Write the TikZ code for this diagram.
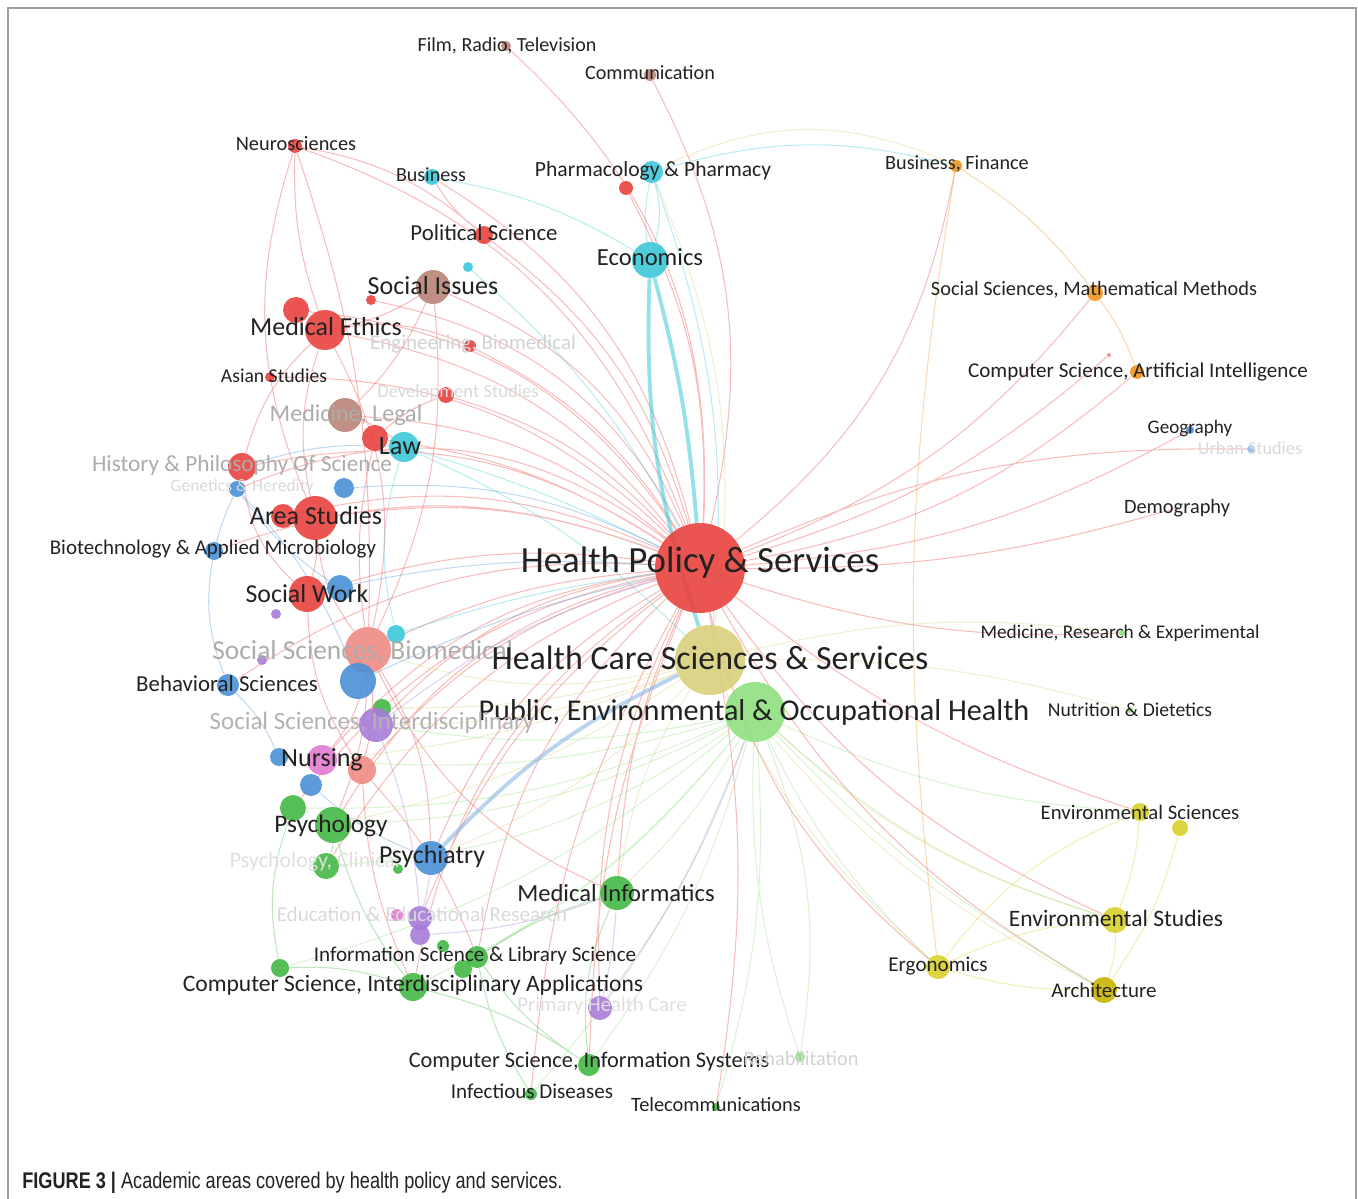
\documentclass[tikz,border=0pt]{standalone}
\usepackage{fontspec}
\setmainfont{Carlito}
\newfontfamily\capfont[FakeStretch=0.8]{Liberation Sans}
\usetikzlibrary{backgrounds}

\definecolor{hred}{HTML}{E8423F}
\definecolor{hcyan}{HTML}{3CC8D8}
\definecolor{hbrown}{HTML}{B88476}
\definecolor{hblue}{HTML}{4A90D6}
\definecolor{hpink}{HTML}{F08A85}
\definecolor{hpurple}{HTML}{A77BD8}
\definecolor{hmagenta}{HTML}{E27BD0}
\definecolor{hgreen}{HTML}{45B845}
\definecolor{hlgreen}{HTML}{8FE07F}
\definecolor{hkhaki}{HTML}{D8D07C}
\definecolor{hyellow}{HTML}{D8D02A}
\definecolor{horange}{HTML}{F0951E}
\definecolor{hdyellow}{HTML}{C8B400}
\definecolor{ink}{HTML}{222222}

\begin{document}
\begin{tikzpicture}[
    % one unit = one pixel of the figure, y grows downwards
    x={(0.02cm,0)}, y={(0,-0.02cm)},
    % circles of the map
    dot/.style={circle, inner sep=0pt, draw=none, fill=#1, fill opacity=.9},
    % texts of the map
    lbl/.style={font=\fontsize{#1}{#1}\selectfont, text=ink, inner sep=0pt},
    faint/.style={text=gray!45},
    % links between the areas
    link/.style={draw=#1, draw opacity=.35, line width=.6pt},
    thick link/.style={draw=#1, draw opacity=.55, line width=2.2pt}
]
\useasboundingbox (0,0) rectangle (1358,1199);

% Frame
\draw[gray!75, line width=1.1pt] (8,1199) -- (8,8) -- (1356,8) -- (1356,1199);

% Centre
\node[dot=hred, minimum size=1.8cm] (hps) at (700,568) {};
\node[dot=hkhaki, minimum size=1.4cm] (hcss) at (710,660) {};
\node[dot=hlgreen, minimum size=1.2cm] (peoh) at (755,712) {};

% Top
\node[dot=hcyan, minimum size=.72cm] (econ) at (650,260) {};
\node[dot=hcyan, minimum size=.44cm] (pharm) at (652,172) {};
\node[dot=hred, minimum size=.28cm] (pharmr) at (626,188) {};
\node[dot=hbrown, minimum size=.24cm] (comm) at (650,75) {};
\node[dot=hbrown, minimum size=.2cm] (film) at (506,46) {};
\node[dot=hred, minimum size=.28cm] (neuro) at (295,146) {};
\node[dot=hcyan, minimum size=.32cm] (bus) at (432,177) {};
\node[dot=hred, minimum size=.36cm] (polsci) at (484,235) {};
\node[dot=hcyan, minimum size=.2cm] (cyanA) at (468,267) {};

% Left, upper part
\node[dot=hbrown, minimum size=.68cm] (socis) at (433,287) {};
\node[dot=hred, minimum size=.2cm] (redA) at (371,300) {};
\node[dot=hred, minimum size=.52cm] (ethA) at (296,310) {};
\node[dot=hred, minimum size=.8cm] (eth) at (325,330) {};
\node[dot=hred, minimum size=.24cm] (engbio) at (470,346) {};
\node[dot=hred, minimum size=.2cm] (asian) at (270,377) {};
\node[dot=hred, minimum size=.32cm] (devst) at (446,395) {};
\node[dot=hbrown, minimum size=.68cm] (medleg) at (345,415) {};
\node[dot=hred, minimum size=.52cm] (lawr) at (375,438) {};
\node[dot=hcyan, minimum size=.6cm] (law) at (404,447) {};
\node[dot=hred, minimum size=.56cm] (hist) at (242,467) {};
\node[dot=hblue, minimum size=.32cm] (gen) at (237,489) {};
\node[dot=hblue, minimum size=.4cm] (blueA) at (344,488) {};
\node[dot=hred, minimum size=.48cm] (areaA) at (283,516) {};
\node[dot=hred, minimum size=.88cm] (area) at (315,518) {};
\node[dot=hblue, minimum size=.36cm] (biotech) at (214,551) {};
\node[dot=hblue, minimum size=.52cm] (swblue) at (340,588) {};
\node[dot=hred, minimum size=.72cm] (socwork) at (307,594) {};
\node[dot=hpurple, minimum size=.2cm] (purpA) at (276,614) {};

% Left, middle part
\node[dot=hpink, minimum size=.92cm] (ssbio) at (368,650) {};
\node[dot=hcyan, minimum size=.36cm] (cyanB) at (396,634) {};
\node[dot=hpurple, minimum size=.2cm] (purpB) at (262,660) {};
\node[dot=hblue, minimum size=.44cm] (behav) at (228,685) {};
\node[dot=hblue, minimum size=.72cm] (blueB) at (358,681) {};
\node[dot=hgreen, minimum size=.36cm] (greenA) at (382,708) {};
\node[dot=hpurple, minimum size=.68cm] (ssint) at (376,725) {};
\node[dot=hblue, minimum size=.36cm] (nursB) at (279,757) {};
\node[dot=hmagenta, minimum size=.6cm] (nursing) at (322,760) {};
\node[dot=hpink, minimum size=.56cm] (pinkA) at (362,770) {};
\node[dot=hblue, minimum size=.44cm] (blueC) at (311,785) {};

% Left, lower part
\node[dot=hgreen, minimum size=.52cm] (psyA) at (293,808) {};
\node[dot=hgreen, minimum size=.72cm] (psych) at (333,825) {};
\node[dot=hgreen, minimum size=.52cm] (psyclin) at (326,866) {};
\node[dot=hgreen, minimum size=.2cm] (greenB) at (398,869) {};
\node[dot=hblue, minimum size=.68cm] (psychia) at (431,858) {};
\node[dot=hgreen, minimum size=.68cm] (medinf) at (617,893) {};
\node[dot=hmagenta, minimum size=.24cm] (edupk) at (397,915) {};
\node[dot=hpurple, minimum size=.48cm] (edu) at (420,918) {};
\node[dot=hpurple, minimum size=.4cm] (eduB) at (420,935) {};
\node[dot=hgreen, minimum size=.24cm] (infA) at (443,946) {};
\node[dot=hgreen, minimum size=.44cm] (infsci) at (477,957) {};
\node[dot=hgreen, minimum size=.36cm] (infB) at (463,969) {};
\node[dot=hgreen, minimum size=.56cm] (csia) at (413,987) {};
\node[dot=hgreen, minimum size=.36cm] (csiaB) at (280,968) {};
\node[dot=hpurple, minimum size=.48cm] (phc) at (600,1008) {};
\node[dot=hgreen, minimum size=.44cm] (csis) at (589,1065) {};
\node[dot=hgreen, minimum size=.24cm] (infect) at (531,1094) {};
\node[dot=hgreen, minimum size=.16cm] (telecom) at (716,1107) {};
\node[dot=hlgreen, minimum size=.2cm] (rehab) at (800,1057) {};

% Right
\node[dot=horange, minimum size=.24cm] (bf) at (956,166) {};
\node[dot=horange, minimum size=.32cm] (ssmm) at (1095,293) {};
\node[dot=hpink, minimum size=.08cm] (opres) at (1109,355) {};
\node[dot=horange, minimum size=.28cm] (csai) at (1137,372) {};
\node[dot=hblue, minimum size=.16cm] (geo) at (1190,430) {};
\node[dot=hblue!60, minimum size=.16cm] (urban) at (1251,449) {};
\node[dot=hblue, minimum size=.06cm] (demo) at (1177,508) {};
\node[dot=hlgreen, minimum size=.12cm] (medres) at (1122,633) {};
\node[dot=hlgreen, minimum size=.12cm] (nutr) at (1130,710) {};
\node[dot=hyellow, minimum size=.36cm] (envsci) at (1140,812) {};
\node[dot=hyellow, minimum size=.32cm] (envsciB) at (1180,828) {};
\node[dot=hyellow, minimum size=.52cm] (envst) at (1115,920) {};
\node[dot=hyellow, minimum size=.48cm] (ergo) at (938,967) {};
\node[dot=hdyellow, minimum size=.52cm] (arch) at (1104,990) {};

% Links (behind the circles)
\begin{scope}[on background layer]
  \draw[link=hred] (hps) to[bend right=20] (comm) (hps) to[bend right=25] (film)
    (hps) to[bend right=25] (neuro) (hps) to[bend right=22] (bus)
    (hps) to[bend right=18] (polsci) (hps) to[bend right=22] (socis)
    (hps) to[bend right=25] (ethA) (hps) to[bend right=20] (eth)
    (hps) to[bend right=15] (engbio) (hps) to[bend right=22] (asian)
    (hps) to[bend right=15] (devst) (hps) to[bend right=18] (medleg)
    (hps) to[bend right=12] (lawr) (hps) to[bend right=22] (hist)
    (hps) to[bend right=18] (areaA) (hps) to[bend right=14] (area)
    (hps) to[bend right=12] (socwork) (hps) to[bend right=10] (ssbio)
    (hps) to[bend right=18] (ssint) (hps) to[bend right=20] (nursing)
    (hps) to[bend right=16] (pinkA) (hps) to[bend right=22] (psych)
    (hps) to[bend right=18] (psychia) (hps) to[bend right=10] (medinf)
    (hps) to[bend right=18] (infsci) (hps) to[bend right=22] (csia)
    (hps) to[bend right=10] (csis) (hps) to[bend right=14] (phc)
    (hps) to[bend right=15] (pharmr) (hps) to[bend right=15] (csai)
    (hps) to[bend right=15] (ssmm) (hps) to[bend right=12] (geo)
    (hps) to[bend right=8] (demo) (hps) to[bend right=10] (medres)
    (hps) to[bend right=12] (opres) (hps) to[bend right=20] (bf)
    (hps) to[bend right=18] (ergo) (hps) to[bend right=15] (arch)
    (hps) to[bend right=15] (envst) (hps) to[bend right=12] (infect)
    (hps) to[bend left=10] (telecom) (hps) to[bend right=18] (behav)
    (hps) to[bend right=20] (biotech) (hps) to[bend right=18] (psyclin)
    (hps) to[bend right=15] (edu) (hps) to[bend right=25] (redA)
    (hps) to[bend right=20] (psyA) (hps) to[bend right=10] (envsci)
    (hps) to[bend left=12] (urban) (hps) to[bend right=30] (gen);
  \draw[link=hred] (ssbio) to[bend left=15] (nursing) (ssbio) to[bend left=10] (psych)
    (eth) to[bend right=10] (socis) (eth) to[bend right=15] (hist)
    (medleg) to[bend left=10] (law) (area) to[bend left=10] (socwork)
    (neuro) to[bend right=10] (eth) (neuro) to[bend left=10] (ssbio)
    (neuro) to[bend left=15] (polsci) (neuro) to[bend right=20] (area)
    (pinkA) to[bend right=10] (csia) (pinkA) to[bend left=10] (infsci)
    (polsci) to[bend left=10] (bus) (lawr) to[bend right=10] (ssbio)
    (eth) to[bend left=20] (ssbio) (eth) to[bend right=15] (area)
    (socis) to[bend left=15] (ssbio) (socis) to[bend left=10] (medleg)
    (area) to[bend right=15] (ssbio) (hist) to[bend right=20] (socwork)
    (ssbio) to[bend left=10] (pinkA) (ssbio) to[bend left=15] (psychia)
    (socwork) to[bend right=15] (pinkA) (eth) to[bend left=15] (engbio)
    (lawr) to[bend left=10] (devst) (ssbio) to[bend right=20] (medinf);
  \draw[link=hkhaki] (hcss) to[bend right=15] (envst) (hcss) to[bend right=12] (arch)
    (hcss) to[bend right=10] (ergo) (hcss) to[bend left=10] (medres)
    (hcss) to[bend left=8] (nutr) (hcss) to[bend right=15] (pharm)
    (pharm) to[bend left=25] (bf) (hcss) to[bend left=10] (psych)
    (hcss) to[bend left=8] (nursing) (hcss) to[bend left=10] (ssint)
    (hcss) to[bend left=12] (psychia) (hcss) to[bend right=12] (medinf)
    (hcss) to[bend left=15] (ssbio) (hcss) to[bend left=8] (greenA);
  \draw[link=hlgreen] (peoh) to[bend left=15] (rehab) (peoh) to[bend right=10] (rehab)
    (peoh) to[bend left=10] (telecom) (peoh) to[bend left=10] (csis)
    (peoh) to[bend left=8] (medinf) (peoh) to[bend right=10] (ergo)
    (peoh) to[bend right=12] (envst) (peoh) to[bend right=10] (envsci)
    (peoh) to[bend left=12] (psych) (peoh) to[bend left=10] (infsci)
    (peoh) to[bend left=10] (infect) (peoh) to[bend left=12] (csia)
    (peoh) to[bend left=10] (ssint) (peoh) to[bend left=12] (psyA)
    (peoh) to[bend left=15] (psyclin) (peoh) to[bend left=12] (csiaB)
    (peoh) to[bend right=8] (arch) (peoh) to[bend left=10] (nursing);
  \draw[thick link=hcyan] (econ) to[bend right=10] (hcss) (econ) to[bend left=5] (hps);
  \draw[link=hcyan] (pharm) to[bend right=10] (econ) (pharm) to[bend left=15] (econ)
    (pharm) to[bend left=12] (hcss) (bus) to[bend left=10] (econ)
    (law) to[bend left=5] (hps) (law) to[bend left=10] (hcss)
    (cyanB) to[bend left=5] (hps) (pharm) to[bend left=15] (bf)
    (cyanA) to[bend left=10] (hps) (law) to[bend right=15] (cyanB);
  \draw[thick link=hblue!70] (psychia) to[bend left=10] (hcss);
  \draw[link=hblue] (socwork) to[bend left=8] (hps) (blueB) to[bend left=6] (hps)
    (gen) to[bend right=5] (biotech) (gen) to[bend left=10] (blueB)
    (hist) to[bend left=10] (law) (behav) to[bend left=10] (nursB)
    (blueC) to[bend right=10] (psychia) (gen) to[bend right=10] (swblue)
    (biotech) to[bend right=15] (behav) (blueA) to[bend left=15] (hps);
  \draw[link=hpurple] (medinf) to[bend left=5] (phc) (medinf) to[bend left=8] (eduB)
    (psychia) to[bend left=5] (edu) (ssint) to[bend left=8] (edu)
    (ssint) to[bend left=10] (hps) (phc) to[bend right=8] (peoh);
  \draw[link=hgreen] (psych) to[bend left=10] (psyclin) (psych) to[bend right=10] (csia)
    (csis) to[bend left=15] (medinf) (csis) to[bend left=10] (infsci)
    (infsci) to[bend left=8] (medinf) (csiaB) to[bend left=10] (csia)
    (psyA) to[bend right=15] (csiaB) (csia) to[bend left=10] (csis)
    (infect) to[bend left=10] (infsci);
  \draw[link=hyellow] (ergo) to[bend right=8] (arch) (ergo) to[bend left=10] (envst)
    (envst) to[bend left=10] (arch) (envsci) to[bend left=8] (envst)
    (envsciB) to[bend left=10] (arch) (ergo) to[bend left=15] (envsci);
  \draw[link=horange] (bf) to[bend left=10] (ssmm) (bf) to[bend right=8] (ergo)
    (ssmm) to[bend left=8] (csai);
\end{scope}

% Labels
\node[lbl=21] (hps-t) at (700,563) {Health Policy \& Services};
\node[lbl=15.6, faint, text=gray!65, anchor=west] (ssbio-t) at (212,652) {Social Sciences, Biomedical};
\node[lbl=19.3] (hcss-t) at (710,658) {Health Care Sciences \& Services};
\node[lbl=17.2] (peoh-t) at (754,712) {Public, Environmental \& Occupational Health};
\node[lbl=14] (econ-t) at (650,257) {Economics};
\node[lbl=12.3] (pharm-t) at (653,171) {Pharmacology \& Pharmacy};
\node[lbl=11.5] (comm-t) at (650,73) {Communication};
\node[lbl=11.4] (film-t) at (507,46) {Film, Radio, Television};
\node[lbl=11.6] (neuro-t) at (296,144) {Neurosciences};
\node[lbl=11.4] (bus-t) at (431,175) {Business};
\node[lbl=13] (polsci-t) at (484,233) {Political Science};
\node[lbl=14.8] (socis-t) at (433,286) {Social Issues};
\node[lbl=14.8] (eth-t) at (326,327) {Medical Ethics};
\node[lbl=12, faint, text=gray!35] (engbio-t) at (473,344) {Engineering, Biomedical};
\node[lbl=11.2] (asian-t) at (274,376) {Asian Studies};
\node[lbl=10.6, faint, text=gray!30] (devst-t) at (458,393) {Development Studies};
\node[lbl=13.7, faint, text=gray!65] (medleg-t) at (346,415) {Medicine, Legal};
\node[lbl=15] (law-t) at (400,446) {Law};
\node[lbl=13.2, faint, text=gray!65] (hist-t) at (242,465) {History \& Philosophy Of Science};
\node[lbl=10, faint, text=gray!30] (gen-t) at (242,487) {Genetics \& Heredity};
\node[lbl=14.8] (area-t) at (316,516) {Area Studies};
\node[lbl=11.9] (biotech-t) at (213,549) {Biotechnology \& Applied Microbiology};
\node[lbl=14.7] (socwork-t) at (307,594) {Social Work};
\node[lbl=13] (behav-t) at (227,684) {Behavioral Sciences};
\node[lbl=14.2, faint, text=gray!60] (ssint-t) at (372,723) {Social Sciences, Interdisciplinary};
\node[lbl=14.9] (nursing-t) at (322,760) {Nursing};
\node[lbl=14.4] (psych-t) at (331,826) {Psychology};
\node[lbl=12.5, faint, text=gray!25] (psyclin-t) at (315,862) {Psychology, Clinical};
\node[lbl=14.7] (psychia-t) at (432,857) {Psychiatry};
\node[lbl=14] (medinf-t) at (616,893) {Medical Informatics};
\node[lbl=12, faint, text=gray!30] (edu-t) at (422,914) {Education \& Educational Research};
\node[lbl=12] (infsci-t) at (475,956) {Information Science \& Library Science};
\node[lbl=13.4] (csia-t) at (413,985) {Computer Science, Interdisciplinary Applications};
\node[lbl=11.8, faint, text=gray!25] (phc-t) at (602,1006) {Primary Health Care};
\node[lbl=12.7] (csis-t) at (589,1062) {Computer Science, Information Systems};
\node[lbl=12] (infect-t) at (532,1091) {Infectious Diseases};
\node[lbl=11.6] (telecom-t) at (716,1104) {Telecommunications};
\node[lbl=11.6, faint, text=gray!35] (rehab-t) at (801,1058) {Rehabilitation};
\node[lbl=11.5] (bf-t) at (957,164) {Business, Finance};
\node[lbl=11.6] (ssmm-t) at (1094,290) {Social Sciences, Mathematical Methods};
\node[lbl=12] (csai-t) at (1138,372) {Computer Science, Artificial Intelligence};
\node[lbl=10.9] (geo-t) at (1190,428) {Geography};
\node[lbl=10.4, faint, text=gray!30] (urban-t) at (1250,448) {Urban Studies};
\node[lbl=11.6] (demo-t) at (1177,508) {Demography};
\node[lbl=11] (medres-t) at (1120,633) {Medicine, Research \& Experimental};
\node[lbl=11.2] (nutr-t) at (1130,710) {Nutrition \& Dietetics};
\node[lbl=11.8] (envsci-t) at (1140,812) {Environmental Sciences};
\node[lbl=13.4] (envst-t) at (1116,918) {Environmental Studies};
\node[lbl=12] (ergo-t) at (938,966) {Ergonomics};
\node[lbl=11.9] (arch-t) at (1104,990) {Architecture};

% Caption
\node[anchor=base west, inner sep=0pt, font=\capfont\fontsize{12.9}{13}\selectfont, text=ink]
  (caption) at (22,1188) {\textbf{FIGURE 3 |} Academic areas covered by health policy and services.};
\end{tikzpicture}
\end{document}
